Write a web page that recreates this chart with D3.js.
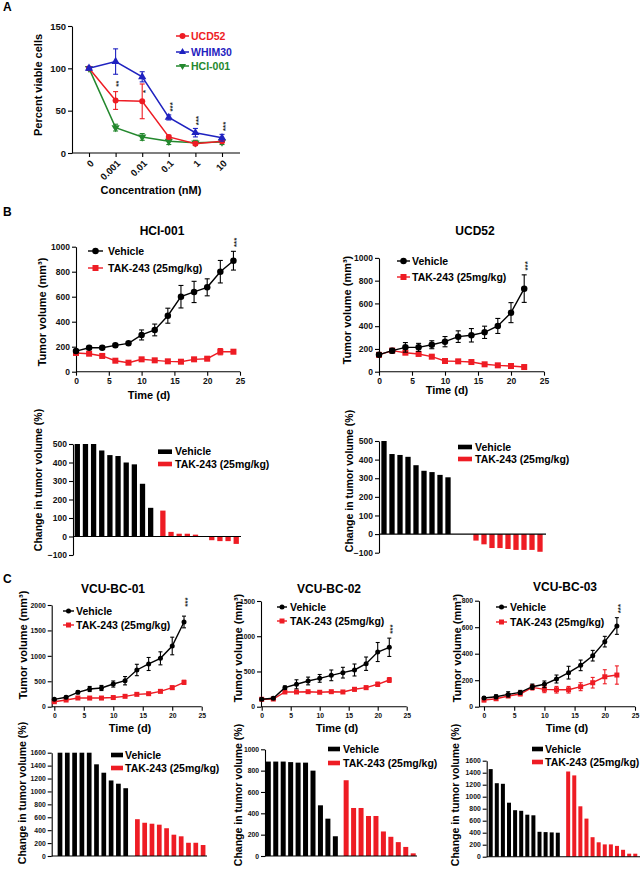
<!DOCTYPE html>
<html><head><meta charset="utf-8">
<script src="https://cdn.jsdelivr.net/npm/d3@7"></script>
<style>body{margin:0;background:#fff}</style>
</head><body>
<script>
// ---------------- DATA ----------------
const concLabels = ["0","0.001","0.01","0.1","1","10"];
const ucd52Viability = [100,62,61,19,11,14];
const ucd52Err = [2,10.5,20.5,2,2,2];
const whim30Viability = [100,108,90,42,24,18];
const whim30Err = [2,15,6,3,5,4];
const hci001Viability = [100,30,19,14,12,13];
const hci001Err = [2,4,4,4,3,3];
const sigA = ["","**","*","***","***","***"];

const daysHCI = [0,2,4,6,8,10,12,14,16,18,20,22,24];
const hciVehicle = [165,192,192,211,227,294,334,448,600,638,675,800,888];
const hciVehicleErr = [12,12,12,12,12,40,47,60,90,85,68,90,75];
const hciTak = [150,144,126,88,72,99,91,83,80,99,104,160,160];
const hciTakErr = [10,10,10,10,10,10,10,10,10,10,10,25,15];

const daysUCD = [0,2,4,6,8,10,12,14,16,18,20,22];
const ucdVehicle = [150,185,214,214,237,264,308,320,346,402,519,730];
const ucdVehicleErr = [15,20,42,35,35,45,51,59,54,66,88,121];
const ucdTak = [148,185,167,156,132,94,91,85,65,56,50,41];
const ucdTakErr = [12,12,10,10,10,10,10,10,10,10,10,10];

const hciWfVehicle = [500,500,500,465,440,435,400,390,285,155];
const hciWfTak = [140,25,15,15,10,0,-20,-25,-25,-40];
const ucdWfVehicle = [500,430,425,415,370,340,333,318,305];
const ucdWfTak = [-35,-55,-75,-75,-80,-85,-85,-85,-95];

const daysVCU = [0,2,4,6,8,10,12,14,16,18,20,22];
const vcu01Vehicle = [145,185,283,348,368,446,511,722,840,951,1194,1666];
const vcu01VehicleErr = [20,25,30,50,50,60,82,112,128,128,173,115];
const vcu01Tak = [98,131,171,170,170,180,204,243,256,302,374,479];
const vcu01TakErr = [15,15,15,15,15,15,20,20,20,25,35,40];
const vcu02Vehicle = [105,119,270,318,365,402,445,483,521,610,776,843];
const vcu02VehicleErr = [15,15,25,64,55,55,76,76,85,95,135,130];
const vcu02Tak = [105,109,209,209,213,205,213,209,247,270,318,379];
const vcu02TakErr = [15,15,15,15,15,15,15,15,25,25,30,35];
const vcu03Vehicle = [66,75,93,108,151,169,209,257,312,385,491,609];
const vcu03VehicleErr = [10,15,20,15,20,25,30,48,40,40,40,63];
const vcu03Tak = [50,60,81,96,146,131,128,128,151,181,226,239];
const vcu03TakErr = [12,12,12,12,20,25,25,25,30,40,53,69];

const vcu01WfVehicle = [1600,1600,1600,1600,1600,1420,1290,1170,1120,1050];
const vcu01WfTak = [570,515,500,485,430,330,305,205,205,170];
const vcu02WfVehicle = [885,885,885,880,875,875,800,475,350,185];
const vcu02WfTak = [710,450,450,375,375,230,180,130,85,25];
const vcu03WfVehicle = [1460,1225,1215,900,775,765,700,690,415,410,405,400];
const vcu03WfTak = [1420,1355,840,635,325,240,205,205,180,115,50,50];

const groupNames = ["Vehicle","TAK-243 (25mg/kg)"];
const lineNamesA = ["UCD52","WHIM30","HCI-001"];

// ---------------- DRAWING ----------------
const FONT = "'Liberation Sans', Arial, Helvetica, sans-serif";
const RED = "#ee1c24", BLUE = "#1f22c0", GREEN = "#24882e", BLACK = "#000";
const fmt = d3.format("d");
const svg = d3.select("body").append("svg").attr("width",642).attr("height",873).style("background","#fff");

function styleAxis(sel, fs){
  sel.select(".domain").attr("stroke","#000").attr("stroke-width",1.1);
  sel.selectAll(".tick line").attr("stroke","#000").attr("stroke-width",1.1);
  sel.selectAll(".tick text").attr("font-family",FONT).attr("font-weight","bold").attr("font-size",fs).attr("fill","#111");
}
function label(x,y,s,fs,opts={}){
  const t = svg.append("text").attr("x",x).attr("y",y).text(s)
    .attr("font-family",FONT).attr("font-weight","bold").attr("font-size",fs)
    .attr("fill",opts.fill||"#000").attr("text-anchor",opts.anchor||"middle");
  if(opts.rotate) t.attr("transform",`rotate(-90,${x},${y})`);
  if(opts.dy) t.attr("dy",opts.dy);
  return t;
}
function marker(g,type,cx,cy,size,color){
  if(type==="circle") g.append("circle").attr("cx",cx).attr("cy",cy).attr("r",size/2).attr("fill",color);
  else if(type==="square") g.append("rect").attr("x",cx-size/2).attr("y",cy-size/2).attr("width",size).attr("height",size).attr("fill",color);
  else {
    const rot = type==="triDown" ? 180 : 0;
    g.append("path").attr("d",d3.symbol(d3.symbolTriangle,size*size*0.6)())
      .attr("transform",`translate(${cx},${cy}) rotate(${rot})`).attr("fill",color);
  }
}
function series(g,xs,ys,vals,errs,color,type,ms,lw,capW){
  const pts = vals.map((v,i)=>({x:xs[i],v:v,e:errs[i]}));
  g.append("path").datum(pts).attr("fill","none").attr("stroke",color).attr("stroke-width",lw)
    .attr("d",d3.line().x(d=>d.x).y(d=>ys(d.v)));
  pts.forEach(d=>{
    const y1 = ys(d.v-d.e), y2 = ys(d.v+d.e);
    g.append("line").attr("x1",d.x).attr("x2",d.x).attr("y1",y1).attr("y2",y2).attr("stroke",color).attr("stroke-width",1.1);
    [y1,y2].forEach(yy=>g.append("line").attr("x1",d.x-capW/2).attr("x2",d.x+capW/2).attr("y1",yy).attr("y2",yy).attr("stroke",color).attr("stroke-width",1.1));
  });
  pts.forEach(d=>marker(g,type,d.x,ys(d.v),ms,color));
}
function stars(x,y,s,fs){
  svg.append("text").attr("x",x).attr("y",y).text(s).attr("font-family",FONT).attr("font-weight","bold")
    .attr("font-size",fs).attr("fill","#222").attr("text-anchor","middle").attr("dy","0.6em")
    .attr("transform",`rotate(-90,${x},${y})`);
}

// ---------- Panel A ----------
label(3,11,"A",12,{anchor:"start"});
(function(){
  const g = svg.append("g");
  const x = d3.scalePoint().domain(concLabels).range([89,222]);
  const y = d3.scaleLinear().domain([0,150]).range([153,26]);
  const ya = g.append("g").attr("transform","translate(72,0)")
    .call(d3.axisLeft(y).tickValues([0,50,100,150]).tickFormat(fmt).tickSize(4).tickSizeOuter(0).tickPadding(2));
  styleAxis(ya,9.5);
  const xa = g.append("g").attr("transform",`translate(0,${y(0)})`)
    .call(d3.axisBottom(x).tickSize(4).tickSizeOuter(0));
  styleAxis(xa,9.5);
  xa.select(".domain").remove();
  g.append("line").attr("x1",72).attr("x2",240).attr("y1",y(0)).attr("y2",y(0)).attr("stroke","#000").attr("stroke-width",1.1);
  xa.selectAll(".tick text").attr("x",0).attr("y",0).attr("dy",0).style("text-anchor","end")
    .attr("transform","translate(5,11) rotate(-45)");
  const xs = concLabels.map(c=>x(c));
  series(g,xs,y,hci001Viability,hci001Err,GREEN,"triDown",7,1.5,5);
  series(g,xs,y,ucd52Viability,ucd52Err,RED,"circle",6,1.5,5);
  series(g,xs,y,whim30Viability,whim30Err,BLUE,"tri",7,1.5,5);
  concLabels.forEach((c,i)=>{
    if(!sigA[i]) return;
    let yy;
    if(i===1) yy = y(ucd52Viability[i]+ucd52Err[i]) - 8;
    else if(i===2) yy = y(ucd52Viability[i]) - 10;
    else yy = y(whim30Viability[i]+whim30Err[i]) - 8;
    stars(x(c)+1,yy,sigA[i],8);
  });
  const cols = [RED,BLUE,GREEN], types=["circle","tri","triDown"], ly=[36,52,66];
  lineNamesA.forEach((n,i)=>{
    g.append("line").attr("x1",176).attr("x2",189).attr("y1",ly[i]).attr("y2",ly[i]).attr("stroke",cols[i]).attr("stroke-width",1.5);
    marker(g,types[i],182.5,ly[i],6,cols[i]);
    label(191,ly[i],n,10.5,{anchor:"start",fill:cols[i],dy:"0.36em"});
  });
  label(38,85,"Percent viable cells",11,{rotate:true,dy:"0.35em"});
  label(151,194,"Concentration (nM)",11);
})();

// ---------- Line plot helper ----------
function linePlot(c){
  const g = svg.append("g");
  const x = d3.scaleLinear().domain([0,25]).range([c.x0,c.x25]);
  const y = d3.scaleLinear().domain([0,c.yMax]).range([c.y0,c.yTop]);
  const ya = g.append("g").attr("transform",`translate(${c.axisX},0)`)
    .call(d3.axisLeft(y).tickValues(d3.range(0,c.yMax+1,c.yStep)).tickFormat(fmt).tickSize(4).tickSizeOuter(0).tickPadding(2));
  styleAxis(ya,c.tf);
  const xa = g.append("g").attr("transform",`translate(0,${c.y0})`)
    .call(d3.axisBottom(x).tickValues(d3.range(0,26,5)).tickFormat(fmt).tickSize(4).tickSizeOuter(0).tickPadding(2));
  styleAxis(xa,c.tf);
  xa.select(".domain").remove();
  g.append("line").attr("x1",c.axisX).attr("x2",x(25)).attr("y1",c.y0).attr("y2",c.y0).attr("stroke","#000").attr("stroke-width",1.1);
  const xs = c.days.map(d=>x(d));
  series(g,xs,y,c.tak,c.takErr,RED,"square",c.sq,1.4,c.cap);
  series(g,xs,y,c.veh,c.vehErr,BLACK,"circle",c.ci,1.4,c.cap);
  const n = c.days.length-1;
  stars(xs[n]+1, y(c.veh[n]+c.vehErr[n]) - c.starOff, "***", 8);
  [[c.vy,BLACK,"circle",c.ci],[c.ty,RED,"square",c.sq]].forEach((l,i)=>{
    g.append("line").attr("x1",c.lx).attr("x2",c.lx+c.lw).attr("y1",l[0]).attr("y2",l[0]).attr("stroke",l[1]).attr("stroke-width",1.4);
    marker(g,l[2],c.lx+c.lw/2,l[0],l[3],l[1]);
    label(c.tx,l[0],groupNames[i],c.lf,{anchor:"start",dy:"0.36em"});
  });
  label(c.titleX,c.titleY,c.title,12);
  label(c.ylx,c.yly,"Tumor volume (mm³)",11,{rotate:true,dy:"0.35em"});
  label(c.xlx,c.xly,"Time (d)",11);
}

// ---------- Waterfall helper ----------
function waterfall(c){
  const g = svg.append("g");
  const y = d3.scaleLinear().domain(c.yDom).range(c.yRange);
  const x = d3.scaleLinear().domain([0,1]).range([c.c0,c.c0+c.step]);
  const bars = c.veh.map((v,i)=>({k:i,v:v,col:BLACK})).concat(c.tak.map((v,i)=>({k:c.redStart+i,v:v,col:RED})));
  g.selectAll("rect.bar").data(bars).enter().append("rect").attr("class","bar")
    .attr("x",d=>x(d.k)-c.bw/2).attr("width",c.bw)
    .attr("y",d=>Math.min(y(d.v),y(0))).attr("height",d=>Math.abs(y(d.v)-y(0)))
    .attr("fill",d=>d.col);
  const ya = g.append("g").attr("transform",`translate(${c.axisX},0)`)
    .call(d3.axisLeft(y).tickValues(d3.range(c.yDom[0],c.yDom[1]+1,c.yStep)).tickFormat(fmt).tickSize(4).tickSizeOuter(0).tickPadding(2));
  styleAxis(ya,c.tf);
  g.append("line").attr("x1",c.axisX).attr("x2",c.axisEnd).attr("y1",y(0)).attr("y2",y(0)).attr("stroke","#000").attr("stroke-width",1.1);
  [[c.vy,BLACK],[c.ty,RED]].forEach((l,i)=>{
    g.append("rect").attr("x",c.lx).attr("y",l[0]-2.3).attr("width",c.lw).attr("height",4.6).attr("fill",l[1]);
    label(c.tx,l[0],groupNames[i],c.lf,{anchor:"start",dy:"0.36em"});
  });
  label(c.ylx,c.yly,"Change in tumor volume (%)",10.5,{rotate:true,dy:"0.35em"});
}

// ---------- Panel B ----------
label(3,216,"B",12,{anchor:"start"});
linePlot({x0:76,x25:240,axisX:76,y0:371.7,yTop:246.7,yMax:1000,yStep:200,tf:8.5,
  days:daysHCI,veh:hciVehicle,vehErr:hciVehicleErr,tak:hciTak,takErr:hciTakErr,
  ci:6.5,sq:6,cap:5,starOff:9,
  lx:88,lw:15,tx:108,vy:251,ty:268,lf:10.5,
  title:"HCI-001",titleX:162,titleY:235,ylx:42,yly:312,xlx:149,xly:399});
linePlot({x0:379,x25:544,axisX:379,y0:371.7,yTop:257.9,yMax:1000,yStep:200,tf:8.5,
  days:daysUCD,veh:ucdVehicle,vehErr:ucdVehicleErr,tak:ucdTak,takErr:ucdTakErr,
  ci:6.5,sq:6,cap:5,starOff:9,
  lx:397,lw:13,tx:412,vy:261,ty:277,lf:10.5,
  title:"UCD52",titleX:475,titleY:235,ylx:347,yly:310,xlx:447,xly:394});
waterfall({axisX:73,axisEnd:241,yDom:[-100,500],yRange:[555,444],yStep:100,tf:8.5,
  c0:77.3,step:8.15,redStart:10.5,bw:5.3,veh:hciWfVehicle,tak:hciWfTak,
  lx:158,lw:14,tx:175,vy:451.7,ty:464,lf:10.5,ylx:38,yly:480});
waterfall({axisX:379,axisEnd:546,yDom:[-100,500],yRange:[552.7,441],yStep:100,tf:8.5,
  c0:384,step:8,redStart:11.5,bw:5.3,veh:ucdWfVehicle,tak:ucdWfTak,
  lx:458,lw:14,tx:475,vy:447,ty:459,lf:10.5,ylx:349,yly:481});

// ---------- Panel C ----------
label(3,583,"C",12,{anchor:"start"});
linePlot({x0:54.3,x25:201.7,axisX:51.7,y0:706.7,yTop:605,yMax:2000,yStep:500,tf:6.8,
  days:daysVCU,veh:vcu01Vehicle,vehErr:vcu01VehicleErr,tak:vcu01Tak,takErr:vcu01TakErr,
  ci:5,sq:5,cap:4,starOff:14,
  lx:63,lw:11,tx:76,vy:611,ty:625,lf:10.5,
  title:"VCU-BC-01",titleX:113,titleY:593,ylx:23,yly:645,xlx:130,xly:732});
linePlot({x0:261.7,x25:406.7,axisX:261,y0:706.7,yTop:601,yMax:1500,yStep:500,tf:6.8,
  days:daysVCU,veh:vcu02Vehicle,vehErr:vcu02VehicleErr,tak:vcu02Tak,takErr:vcu02TakErr,
  ci:5,sq:5,cap:4,starOff:9,
  lx:277,lw:10,tx:290,vy:607,ty:621,lf:10.5,
  title:"VCU-BC-02",titleX:329,titleY:593,ylx:238,yly:648,xlx:337,xly:732});
linePlot({x0:484,x25:635,axisX:479,y0:706.7,yTop:600.7,yMax:800,yStep:200,tf:6.8,
  days:daysVCU,veh:vcu03Vehicle,vehErr:vcu03VehicleErr,tak:vcu03Tak,takErr:vcu03TakErr,
  ci:5,sq:5,cap:4,starOff:9,
  lx:496,lw:11,tx:510,vy:607,ty:622,lf:10.5,
  title:"VCU-BC-03",titleX:565,titleY:591,ylx:457,yly:648,xlx:567,xly:732});
waterfall({axisX:51.7,axisEnd:207,yDom:[0,1600],yRange:[856,752.7],yStep:200,tf:6.8,
  c0:60,step:7.3,redStart:10.6,bw:4.7,veh:vcu01WfVehicle,tak:vcu01WfTak,
  lx:111,lw:12,tx:125,vy:755,ty:768,lf:10.5,ylx:22,yly:793});
waterfall({axisX:265,axisEnd:417,yDom:[0,1000],yRange:[856,749.3],yStep:200,tf:6.8,
  c0:268.3,step:7.45,redStart:10.45,bw:5,veh:vcu02WfVehicle,tak:vcu02WfTak,
  lx:328,lw:12,tx:343,vy:749,ty:763,lf:10.5,ylx:238,yly:795});
waterfall({axisX:486.7,axisEnd:640,yDom:[0,1600],yRange:[856.7,760.7],yStep:200,tf:6.8,
  c0:490.7,step:6.1,redStart:12.7,bw:4,veh:vcu03WfVehicle,tak:vcu03WfTak,
  lx:532,lw:11,tx:545,vy:749,ty:762,lf:10.5,ylx:455,yly:795});
</script>
</body></html>
